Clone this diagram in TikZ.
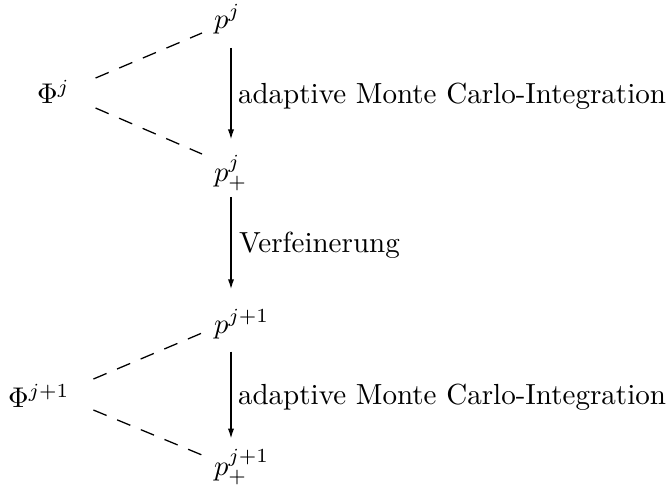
\documentclass[tikz,border=0pt]{standalone}
\usetikzlibrary{arrows.meta,calc}
\begin{document}
\begin{tikzpicture}[x=0.351pt,y=-0.351pt,
  every node/.style={font=\fontsize{10.2pt}{12pt}\selectfont},
  lbl/.style={anchor=west,inner sep=0pt,outer sep=0pt},
  arr/.style={line width=0.6pt,-{Latex[length=3.6pt,width=2.2pt]}},
  dsh/.style={line width=0.45pt,dash pattern=on 5pt off 4pt}]
\useasboundingbox (0,0) rectangle (667,494);
\coordinate (ax) at (231,0);
\node[lbl] (pj) at (214,19) {$p^j$};
\node[lbl] (ppj) at (214,173) {$p^j_+$};
\node[lbl] (pj1) at (214,324) {$p^{j+1}$};
\node[lbl] (ppj1) at (214,467) {$p^{j+1}_+$};
\node[lbl] (phij) at (37,92) {$\Phi^j$};
\node[lbl] (phij1) at (8,396) {$\Phi^{j+1}$};
\node[lbl] (l1) at (238,96) {adaptive Monte Carlo-Integration};
\node[lbl] (l2) at (239,245) {Verfeinerung};
\node[lbl] (l3) at (238,397) {adaptive Monte Carlo-Integration};
\draw[arr,shorten <=5pt,shorten >=5.3pt] (pj.south -| ax) -- (ppj.north -| ax);
\draw[arr,shorten <=2pt,shorten >=7pt] (ppj.south -| ax) -- (pj1.north -| ax);
\draw[arr,shorten <=4.6pt,shorten >=3.5pt] (pj1.south -| ax) -- (ppj1.north -| ax);
\draw[dsh] ($(phij.east)+(26,-14)$) -- ($(pj.west)+(-12,14)$);
\draw[dsh] ($(phij.east)+(26,16)$) -- ($(ppj.west)+(-12,-19)$);
\draw[dsh] ($(phij1.east)+(24,-17)$) -- ($(pj1.west)+(-12,9)$);
\draw[dsh] ($(phij1.east)+(24,14)$) -- ($(ppj1.west)+(-12,-12)$);
\end{tikzpicture}
\end{document}
